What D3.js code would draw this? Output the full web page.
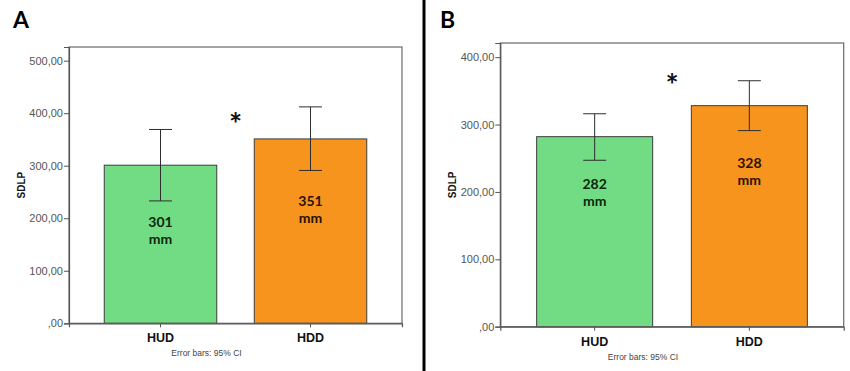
<!DOCTYPE html>
<html>
<head>
<meta charset="utf-8">
<script src="https://cdn.jsdelivr.net/npm/d3@7"></script>
<style>
  body { margin: 0; background: #fff; }
  svg { display: block; }
  .tick text { font-family: "Liberation Sans", Arial, sans-serif; }
</style>
</head>
<body>
<div id="chart"></div>
<script>
    // data
    const groups = ["HUD", "HDD"];

    const meanA = [301, 351];
    const ciLowA = [233, 291];
    const ciHighA = [369, 412];
    const ticksA = [0, 100, 200, 300, 400, 500];
    const starA = 393;

    const meanB = [282, 328];
    const ciLowB = [247, 291];
    const ciHighB = [316, 365];
    const ticksB = [0, 100, 200, 300, 400];
    const starB = 369;

    const barColors = ["#72dc84", "#f7941d"];
    const labelColors = ["#0c260f", "#2a1204"];

    const width = 850,
        height = 371;

    const svg = d3.select("#chart")
        .append("svg")
        .attr("width", width)
        .attr("height", height);

    // divider between the two panels
    svg.append("line")
        .attr("x1", 424).attr("x2", 424)
        .attr("y1", 0).attr("y2", height)
        .attr("stroke", "#000")
        .attr("stroke-width", 3);

    const panels = [
        {letter: "A", letterX: 13, left: 69, top: 47, right: 402, bottom: 323.3, yMax: 526,
         mean: meanA, lo: ciLowA, hi: ciHighA, ticks: ticksA, star: starA, labelFrac: [0.64, 0.66]},
        {letter: "B", letterX: 440, left: 500.3, top: 43, right: 843.7, bottom: 326.7, yMax: 421,
         mean: meanB, lo: ciLowB, hi: ciHighB, ticks: ticksB, star: starB, labelFrac: [0.75, 0.74]}
    ];

    panels.forEach(function(p){
        const g = svg.append("g");

        const x = d3.scaleBand()
            .domain(groups)
            .range([p.left, p.right])
            .paddingInner(0.25)
            .paddingOuter(0.235);

        const y = d3.scaleLinear()
            .domain([0, p.yMax])
            .range([p.bottom, p.top]);

        // panel letter
        g.append("text")
            .text(p.letter)
            .attr("x", p.letterX)
            .attr("y", 28)
            .style("font-family", "Lato, 'Open Sans', sans-serif")
            .style("font-weight", "bold")
            .style("font-size", "23px")
            .style("fill", "#000");

        // bars
        g.selectAll(".bar")
            .data(groups)
            .join("rect")
            .attr("class", "bar")
            .attr("x", d => x(d))
            .attr("width", x.bandwidth())
            .attr("y", (d, i) => y(p.mean[i]))
            .attr("height", (d, i) => y(0) - y(p.mean[i]))
            .attr("fill", (d, i) => barColors[i])
            .attr("stroke", "#3c3c3c")
            .attr("stroke-width", 1);

        // error bars (95% CI)
        const cap = 11.5;
        groups.forEach(function(d, i){
            const cx = x(d) + x.bandwidth() / 2;
            const eb = g.append("g")
                .attr("stroke", "#2e2e2e")
                .attr("stroke-width", 1);
            eb.append("line")
                .attr("x1", cx).attr("x2", cx)
                .attr("y1", y(p.lo[i])).attr("y2", y(p.hi[i]));
            eb.append("line")
                .attr("x1", cx - cap).attr("x2", cx + cap)
                .attr("y1", y(p.hi[i])).attr("y2", y(p.hi[i]));
            eb.append("line")
                .attr("x1", cx - cap).attr("x2", cx + cap)
                .attr("y1", y(p.lo[i])).attr("y2", y(p.lo[i]));

            // value label inside the bar, two lines
            const ly = y(p.mean[i] * p.labelFrac[i]);
            [String(Math.round(p.mean[i])), "mm"].forEach(function(t, k){
                g.append("text")
                    .text(t)
                    .attr("text-anchor", "middle")
                    .attr("x", cx)
                    .attr("y", ly + 4.5 + k * 17)
                    .style("font-family", "Lato, 'Open Sans', sans-serif")
                    .style("font-weight", "bold")
                    .style("font-size", "14px")
                    .style("fill", labelColors[i]);
            });
        });

        // significance star
        g.append("text")
            .text("*")
            .attr("text-anchor", "middle")
            .attr("x", (x(groups[0]) + x(groups[1]) + x.bandwidth()) / 2)
            .attr("y", y(p.star) + 18)
            .style("font-family", "Lato, 'Open Sans', sans-serif")
            .style("font-weight", "bold")
            .style("font-size", "31px")
            .style("fill", "#111");

        // frame
        g.append("rect")
            .attr("x", p.left)
            .attr("y", p.top)
            .attr("width", p.right - p.left)
            .attr("height", p.bottom - p.top)
            .attr("fill", "none")
            .attr("stroke", "#6a6a6a")
            .attr("stroke-width", 1.2);

        // y axis
        const yAxis = g.append("g")
            .attr("transform", `translate(${p.left},0)`)
            .call(d3.axisLeft(y)
                .tickValues(p.ticks)
                .tickSize(5)
                .tickPadding(1)
                .tickFormat(d => d === 0 ? ",00" : d + ",00"));
        yAxis.select(".domain").attr("stroke", "#555").attr("stroke-width", 1.2);
        yAxis.selectAll(".tick line").attr("stroke", "#555");
        yAxis.selectAll(".tick text")
            .style("font-size", "11px")
            .style("fill", "#555");

        // x axis
        const xAxis = g.append("g")
            .attr("transform", `translate(0,${p.bottom})`)
            .call(d3.axisBottom(x).tickSize(4).tickPadding(6));
        xAxis.select(".domain").attr("stroke", "#555").attr("stroke-width", 1.2);
        xAxis.selectAll(".tick line").attr("stroke", "#555");
        xAxis.selectAll(".tick text")
            .style("font-size", "12.5px")
            .style("font-weight", "bold")
            .style("fill", "#111");

        // y axis title
        g.append("text")
            .text("SDLP")
            .attr("text-anchor", "middle")
            .attr("transform", `translate(${p.left - 44},${(p.top + p.bottom) / 2}) rotate(-90)`)
            .style("font-family", "'Liberation Sans', Arial, sans-serif")
            .style("font-weight", "bold")
            .style("font-size", "10px")
            .style("fill", "#111");

        // footnote
        g.append("text")
            .text("Error bars: 95% CI")
            .attr("text-anchor", "middle")
            .attr("x", (p.left + p.right) / 2 - 29)
            .attr("y", p.bottom + 33)
            .style("font-family", "'Liberation Sans', Arial, sans-serif")
            .style("font-size", "8.5px")
            .style("fill", "#444");
    });
</script>
</body>
</html>
